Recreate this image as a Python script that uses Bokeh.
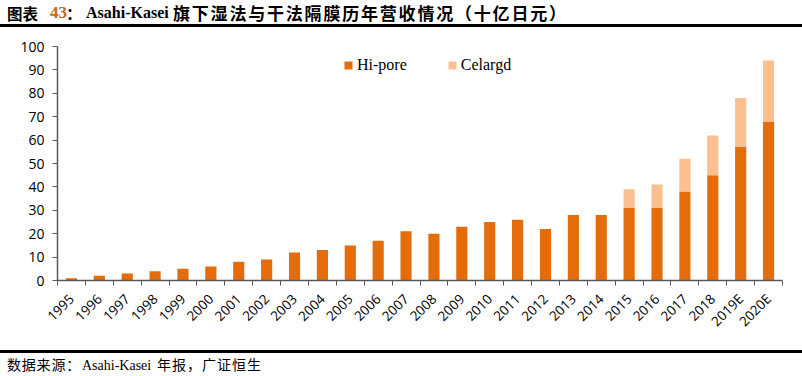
import numpy as np
from bokeh.plotting import figure
from bokeh.models import FixedTicker, Legend, LegendItem, Div, ColumnDataSource, Range1d
from bokeh.layouts import column
from bokeh.embed import file_html
from bokeh.resources import INLINE

years = ["1995", "1996", "1997", "1998", "1999", "2000", "2001", "2002", "2003",
         "2004", "2005", "2006", "2007", "2008", "2009", "2010", "2011", "2012",
         "2013", "2014", "2015", "2016", "2017", "2018", "2019E", "2020E"]
hipore = [1, 2, 3, 4, 5, 6, 8, 9, 12, 13, 15, 17, 21, 20, 23, 25, 26, 22,
          28, 28, 31, 31, 38, 45, 57, 68]
celgard = [0, 0, 0, 0, 0, 0, 0, 0, 0, 0, 0, 0, 0, 0, 0, 0, 0, 0,
           0, 0, 8, 10, 14, 17, 21, 26]
y_ticks = [0, 10, 20, 30, 40, 50, 60, 70, 80, 90, 100]
series_names = ["Hi-pore", "Celargd"]
series_colors = ["#E46C0A", "#FAC090"]

n = len(years)
xs = [i + 0.5 for i in range(n)]
src = ColumnDataSource(dict(x=xs, hipore=hipore, celgard=celgard))

p = figure(width=802, height=320, output_backend="svg", toolbar_location=None,
           x_range=Range1d(0, n), y_range=Range1d(0, 100),
           min_border_left=57, min_border_right=20, min_border_top=16, min_border_bottom=70,
           background_fill_color="white", border_fill_color="white")
p.outline_line_color = None
p.xgrid.visible = False
p.ygrid.visible = False

rs = p.vbar_stack(["hipore", "celgard"], x="x", width=0.4, source=src,
                  color=series_colors, line_color=None)

axis_color = "#595959"
label_font = "Open Sans"

xa = p.xaxis[0]
xa.ticker = FixedTicker(ticks=xs, minor_ticks=list(range(n + 1)))
xa.major_label_overrides = {x: y for x, y in zip(xs, years)}
xa.major_tick_line_color = None
xa.major_tick_in = 0
xa.major_tick_out = 0
xa.minor_tick_in = 0
xa.minor_tick_out = 5
xa.minor_tick_line_color = axis_color
xa.minor_tick_line_width = 1
xa.axis_line_color = axis_color
xa.axis_line_width = 1.5
xa.major_label_orientation = np.pi / 4
xa.major_label_standoff = 11
xa.major_label_text_font = label_font
xa.major_label_text_font_size = "13.5px"
xa.major_label_text_color = "#000000"

ya = p.yaxis[0]
ya.ticker = FixedTicker(ticks=y_ticks, minor_ticks=[])
ya.major_tick_in = 0
ya.major_tick_out = 5
ya.major_tick_line_color = axis_color
ya.minor_tick_line_color = None
ya.axis_line_color = axis_color
ya.axis_line_width = 1.5
ya.major_label_standoff = 8
ya.major_label_text_font = label_font
ya.major_label_text_font_size = "14px"
ya.major_label_text_color = "#000000"

legend = Legend(items=[LegendItem(label=series_names[0], renderers=[rs[0]]),
                       LegendItem(label=series_names[1], renderers=[rs[1]])],
                orientation="horizontal", location=(286, 206),
                glyph_width=10, glyph_height=10, label_standoff=4, spacing=40,
                padding=0, margin=0, border_line_color=None, background_fill_alpha=0,
                label_text_font="Liberation Serif", label_text_font_size="16px",
                label_text_color="#000000")
p.add_layout(legend, "center")

serif = "'Liberation Serif','Noto Sans CJK SC',serif"
cjk = "'Noto Sans CJK SC',sans-serif"
title_html = (
    '<div style="position:relative;width:802px;height:27px;border-bottom:3px solid #000;">'
    f'<span style="position:absolute;left:7px;top:4px;line-height:18px;font-family:{cjk};font-weight:bold;font-size:15.5px;color:#000;white-space:nowrap">图表</span>'
    f'<span style="position:absolute;left:50px;top:4px;line-height:18px;font-family:{serif};font-weight:bold;font-size:17px;color:#C8651B;white-space:nowrap">43</span>'
    f'<span style="position:absolute;left:66px;top:4px;line-height:18px;font-family:{cjk};font-weight:bold;font-size:16px;color:#000;white-space:nowrap">：</span>'
    f'<span style="position:absolute;left:86px;top:4px;line-height:18px;font-family:{serif};font-weight:bold;font-size:16px;color:#000;white-space:nowrap">Asahi-Kasei</span>'
    f'<span style="position:absolute;left:173px;top:4px;line-height:18px;font-family:{cjk};font-weight:bold;font-size:17px;letter-spacing:1.8px;color:#000;white-space:nowrap">旗下湿法与干法隔膜历年营收情况（十亿日元）</span>'
    '</div>'
)
title = Div(text=title_html, width=802, height=30, margin=(0, 0, 0, 0))

footer_html = (
    '<div style="position:relative;width:802px;height:23px;border-top:3px solid #000;">'
    f'<span style="position:absolute;left:7px;top:5px;line-height:16px;font-family:{serif};font-size:14px;letter-spacing:0.8px;color:#000;white-space:nowrap">数据来源：</span>'
    f'<span style="position:absolute;left:82px;top:5px;line-height:16px;font-family:{serif};font-size:14px;color:#000;white-space:nowrap">Asahi-Kasei</span>'
    f'<span style="position:absolute;left:157px;top:5px;line-height:16px;font-family:{serif};font-size:14px;letter-spacing:1px;color:#000;white-space:nowrap">年报，广证恒生</span>'
    '</div>'
)
footer = Div(text=footer_html, width=802, height=26, margin=(0, 0, 0, 0))

layout = column(title, p, footer, spacing=0)
open("out.html", "w").write(file_html(layout, INLINE))
